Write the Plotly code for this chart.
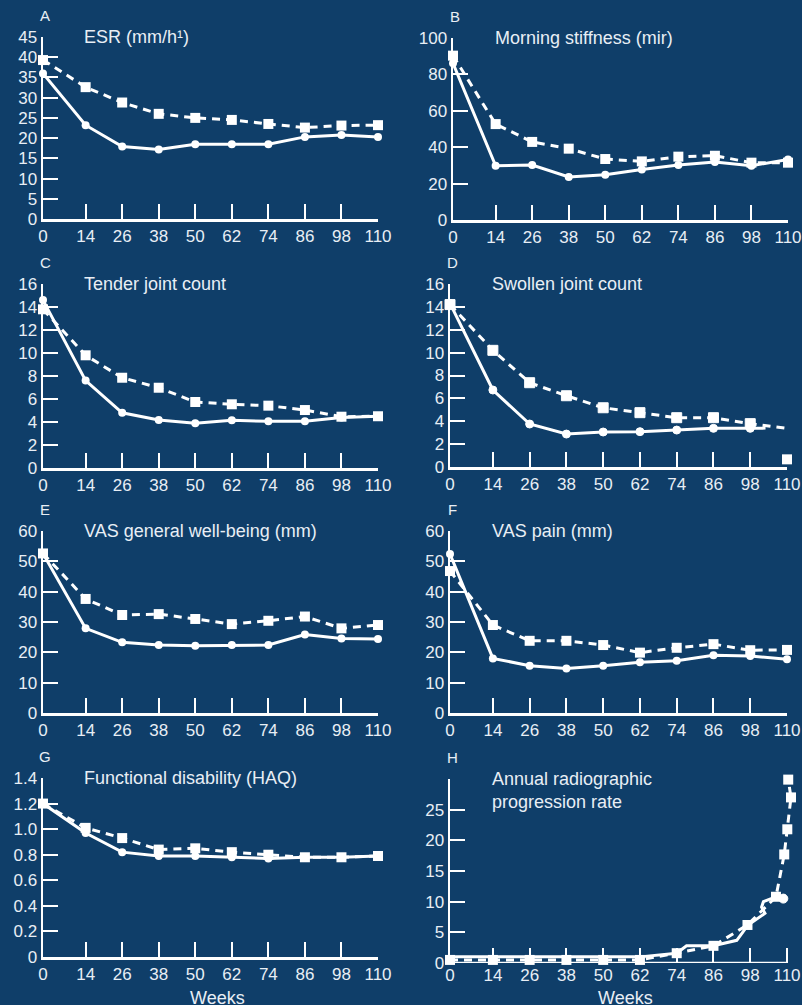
import plotly.graph_objects as go

W, H = 802, 1005
BG = "#0f3e69"
FG = "#e8eef5"
FONT = "Liberation Sans, Arial, sans-serif"

weeks = [0, 14, 26, 38, 50, 62, 74, 86, 98, 110]

# A: ESR
esr_solid = [36.0, 23.2, 17.9, 17.2, 18.5, 18.5, 18.5, 20.3, 20.8, 20.3]
esr_dash = [39.3, 32.6, 28.8, 26.0, 25.0, 24.5, 23.5, 22.6, 23.1, 23.2]
# B: Morning stiffness
ms_solid = [86.1, 29.8, 30.2, 23.6, 24.9, 27.8, 30.2, 31.9, 29.8, 33.3]
ms_dash = [90.3, 52.7, 42.9, 39.2, 33.5, 32.2, 34.8, 35.3, 31.5, 31.5]
# C: Tender joint count
tjc_solid = [14.6, 7.6, 4.8, 4.17, 3.9, 4.15, 4.06, 4.06, 4.4, 4.5]
tjc_dash = [13.8, 9.8, 7.85, 6.98, 5.74, 5.54, 5.42, 5.04, 4.46, 4.5]
# D: Swollen joint count
sjc_solid_x = [0, 14, 26, 38, 50, 62, 74, 86, 98, 103]
sjc_solid = [14.3, 6.73, 3.76, 2.88, 3.06, 3.09, 3.23, 3.38, 3.38, 3.4]
sjc_dash_x = [0, 14, 26, 38, 50, 62, 74, 86, 98, 110]
sjc_dash = [14.2, 10.2, 7.37, 6.23, 5.18, 4.75, 4.31, 4.31, 3.79, 3.38]
sjc_extra_x = [110]
sjc_extra = [0.67]
# E: VAS general well-being
gwb_solid = [52.6, 27.9, 23.3, 22.4, 22.2, 22.4, 22.4, 25.9, 24.6, 24.4]
gwb_dash = [52.6, 37.6, 32.3, 32.6, 31.0, 29.3, 30.4, 31.8, 27.9, 29.0]
# F: VAS pain
pain_solid = [52.4, 18.0, 15.6, 14.7, 15.6, 16.7, 17.2, 19.0, 18.8, 17.7]
pain_dash = [46.8, 29.0, 23.8, 23.8, 22.4, 19.9, 21.5, 22.7, 20.7, 20.8]
# G: HAQ
haq_solid = [1.2, 0.97, 0.82, 0.79, 0.79, 0.78, 0.77, 0.78, 0.78, 0.79]
haq_dash = [1.2, 1.01, 0.93, 0.84, 0.85, 0.82, 0.80, 0.78, 0.78, 0.79]
# H: Annual radiographic progression rate
rad_solid_x = [0, 14, 26, 38, 50, 62, 74, 77.2, 86, 93.6, 97.3, 102.8, 101.7, 102.3, 106.4, 108.8]
rad_solid = [1.0, 1.0, 1.0, 1.0, 1.0, 1.0, 1.6, 2.8, 2.8, 3.7, 6.2, 8.1, 9.1, 10.0, 10.8, 10.5]
rad_dash_x = [0, 14, 26, 38, 50, 62, 74, 86, 97.1, 106.4, 109.1, 110.1, 111.3, 110.4]
rad_dash = [0.5, 0.5, 0.5, 0.5, 0.5, 0.5, 1.6, 2.8, 6.2, 10.8, 17.7, 21.8, 27.0, 29.9]

# panel geometry in pixels: (x0, x1 at week 110, y_bottom, y_top)
panels = [
    dict(key="A", title="ESR (mm/h¹)", px=(43, 378, 219, 37), yr=45, tv=list(range(0, 46, 5))),
    dict(key="B", title="Morning stiffness (mir)", px=(453, 788, 220, 38), yr=100, tv=list(range(0, 101, 20))),
    dict(key="C", title="Tender joint count", px=(43, 378, 468, 284), yr=16, tv=list(range(0, 17, 2))),
    dict(key="D", title="Swollen joint count", px=(450, 787, 467, 284), yr=16, tv=list(range(0, 17, 2))),
    dict(key="E", title="VAS general well-being (mm)", px=(43, 378, 713, 531), yr=60, tv=list(range(0, 61, 10))),
    dict(key="F", title="VAS pain (mm)", px=(450, 787, 713, 531), yr=60, tv=list(range(0, 61, 10))),
    dict(key="G", title="Functional disability (HAQ)", px=(43, 378, 957, 778), yr=1.4,
         tv=[0, 0.2, 0.4, 0.6, 0.8, 1.0, 1.2, 1.4], tt=["0", "0.2", "0.4", "0.6", "0.8", "1.0", "1.2", "1.4"]),
    dict(key="H", title="Annual radiographic<br>progression rate", px=(450, 787, 963, 779), yr=30,
         tv=[0, 5, 10, 15, 20, 25], xmax=112.5),
]

series = {
    "A": [(weeks, esr_solid, None), (weeks, esr_dash, None)],
    "B": [(weeks, ms_solid, None), (weeks, ms_dash, None)],
    "C": [(weeks, tjc_solid, None), (weeks, tjc_dash, None)],
    "D": [(sjc_solid_x, sjc_solid, [8] * 9 + [0]), (sjc_dash_x, sjc_dash, [10] * 9 + [0])],
    "E": [(weeks, gwb_solid, None), (weeks, gwb_dash, None)],
    "F": [(weeks, pain_solid, None), (weeks, pain_dash, None)],
    "G": [(weeks, haq_solid, None), (weeks, haq_dash, None)],
    "H": [(rad_solid_x, rad_solid, [0] * 15 + [9]), (rad_dash_x, rad_dash, None)],
}

fig = go.Figure()
layout = dict(
    width=W, height=H, autosize=False,
    margin=dict(l=0, r=0, t=0, b=0, pad=0),
    paper_bgcolor=BG, plot_bgcolor=BG,
    showlegend=False,
    font=dict(family=FONT, color=FG, size=17),
)
annotations = []
shapes = []

for i, p in enumerate(panels):
    n = i + 1
    xa = "xaxis" if n == 1 else f"xaxis{n}"
    ya = "yaxis" if n == 1 else f"yaxis{n}"
    xr = "x" if n == 1 else f"x{n}"
    yrf = "y" if n == 1 else f"y{n}"
    x0, x1, yb, yt = p["px"]
    xmax = p.get("xmax", 110)
    x1d = x0 + (x1 - x0) * xmax / 110
    extended = xmax > 110
    layout[xa] = dict(
        domain=[x0 / W, x1d / W], anchor=yrf, range=[0, xmax], automargin=False,
        tickvals=weeks, ticks="inside", ticklen=15, tickwidth=2, tickcolor="white",
        showline=not extended, linewidth=2.5, linecolor="white", showgrid=False, zeroline=False,
        tickfont=dict(size=17, color=FG, family=FONT), fixedrange=True,
    )
    if extended:
        shapes.append(dict(
            type="line", xref=xr, yref=yrf, x0=0, x1=110, y0=0, y1=0,
            line=dict(color="white", width=2.5), layer="above",
        ))
    yd = dict(
        domain=[1 - yb / H, 1 - yt / H], anchor=xr, range=[0, p["yr"]], automargin=False,
        tickvals=p["tv"], ticks="inside", ticklen=15, tickwidth=2, tickcolor="white",
        showline=True, linewidth=2.5, linecolor="white", showgrid=False, zeroline=False,
        tickfont=dict(size=17, color=FG, family=FONT), fixedrange=True,
    )
    if "tt" in p:
        yd["ticktext"] = p["tt"]
    layout[ya] = yd

    (sx, sy, ss), (dx, dy, ds) = series[p["key"]]
    fig.add_trace(go.Scatter(
        x=sx, y=sy, mode="lines+markers", xaxis=xr, yaxis=yrf, cliponaxis=False,
        line=dict(color="white", width=3),
        marker=dict(symbol="circle", size=ss if ss else 8, color="white", opacity=1),
    ))
    fig.add_trace(go.Scatter(
        x=dx, y=dy, mode="lines+markers", xaxis=xr, yaxis=yrf, cliponaxis=False,
        line=dict(color="white", width=3, dash="8px,6px"),
        marker=dict(symbol="square", size=ds if ds else 10, color="white", opacity=1),
    ))
    if p["key"] == "D":
        fig.add_trace(go.Scatter(
            x=sjc_extra_x, y=sjc_extra, mode="markers", xaxis=xr, yaxis=yrf, cliponaxis=False,
            marker=dict(symbol="square", size=10, color="white", opacity=1),
        ))

    # panel letter
    annotations.append(dict(
        text=p["key"], xref="paper", yref="paper",
        x=(x0 + 2) / W, y=1 - (yt - 22) / H, xanchor="center", yanchor="middle",
        showarrow=False, font=dict(size=15, color=FG, family=FONT),
    ))
    # panel title
    tx = x0 + 39 if x0 < 100 else x0 + 40
    annotations.append(dict(
        text=p["title"], xref="paper", yref="paper",
        x=tx / W, y=1 - (yt - 12) / H, xanchor="left", yanchor="top", align="left",
        showarrow=False, font=dict(size=18, color=FG, family=FONT),
    ))

for cx in (217, 625):
    annotations.append(dict(
        text="Weeks", xref="paper", yref="paper", x=cx / W, y=1 - 986 / H,
        xanchor="center", yanchor="top", showarrow=False,
        font=dict(size=18, color=FG, family=FONT),
    ))

layout["annotations"] = annotations
layout["shapes"] = shapes
fig.update_layout(**layout)
fig.write_html(
    "out.html",
    config={"displayModeBar": False, "responsive": False, "staticPlot": True},
    post_script=(
        "document.documentElement.style.margin='0px';"
        "document.documentElement.style.overflow='hidden';"
        "document.body.style.margin='0px';"
        "document.body.style.overflow='hidden';"
        "document.body.style.background='" + BG + "';"
    ),
)
